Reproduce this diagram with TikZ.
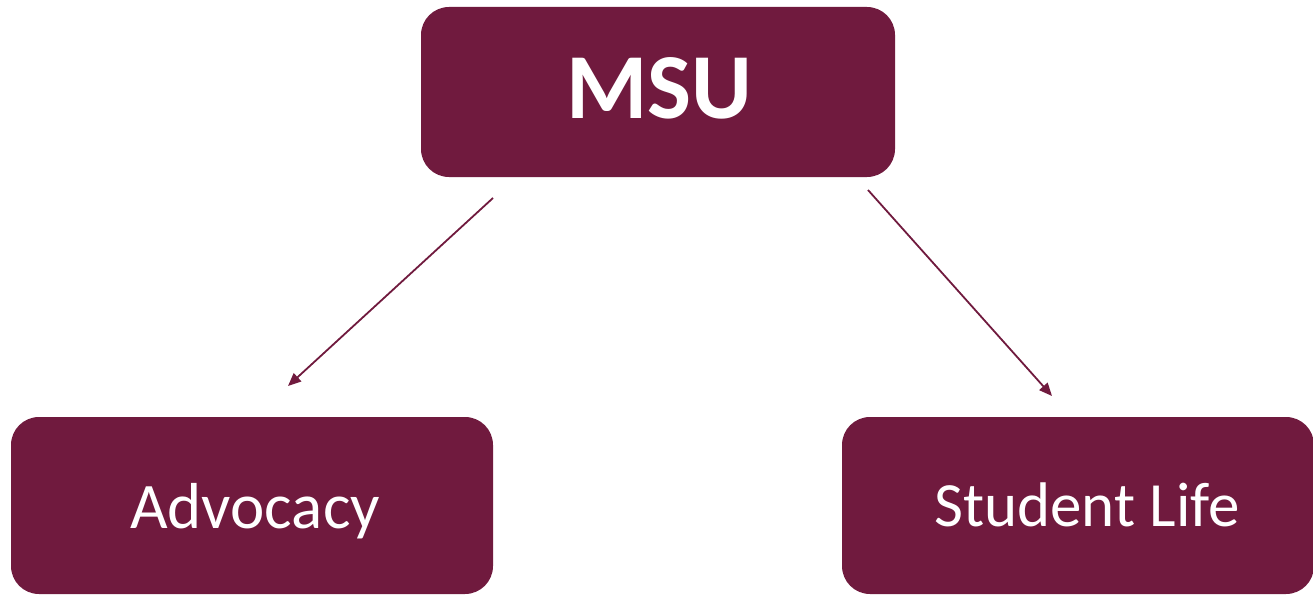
\documentclass[tikz,border=0pt]{standalone}
\usepackage{fontspec}
\setmainfont{Carlito}
\usetikzlibrary{arrows.meta}
\definecolor{maroon}{RGB}{112,26,62}
\begin{document}
\begin{tikzpicture}[x=1pt,y=-1pt,
  box/.style={fill=maroon, rounded corners=28pt, text=white, inner sep=0pt, align=center},
  conn/.style={draw=maroon, line width=1.8pt, -{Triangle[length=13pt,width=11pt]}}]
\useasboundingbox (0,0) rectangle (1313,594);
\node[box, minimum width=474pt, minimum height=170pt, font=\fontsize{93}{100}\selectfont\bfseries, text height=52pt, text depth=0pt] (msu) at (658,92) {\hspace{3pt}MSU};
\node[box, minimum width=482pt, minimum height=177pt, font=\fontsize{65}{70}\selectfont, text height=46pt, text depth=0pt] (adv) at (252,505.5) {\hspace{6pt}Advocacy};
\node[box, minimum width=472pt, minimum height=177pt, font=\fontsize{63}{70}\selectfont, text height=42pt, text depth=0pt] (stu) at (1078,505.5) {\hspace{18pt}Student Life};
\coordinate (a1) at (493,198);
\coordinate (a2) at (288,386);
\coordinate (b1) at (868,190);
\coordinate (b2) at (1052,396);
\draw[conn] (a1) -- (a2);
\draw[conn] (b1) -- (b2);
\end{tikzpicture}
\end{document}
